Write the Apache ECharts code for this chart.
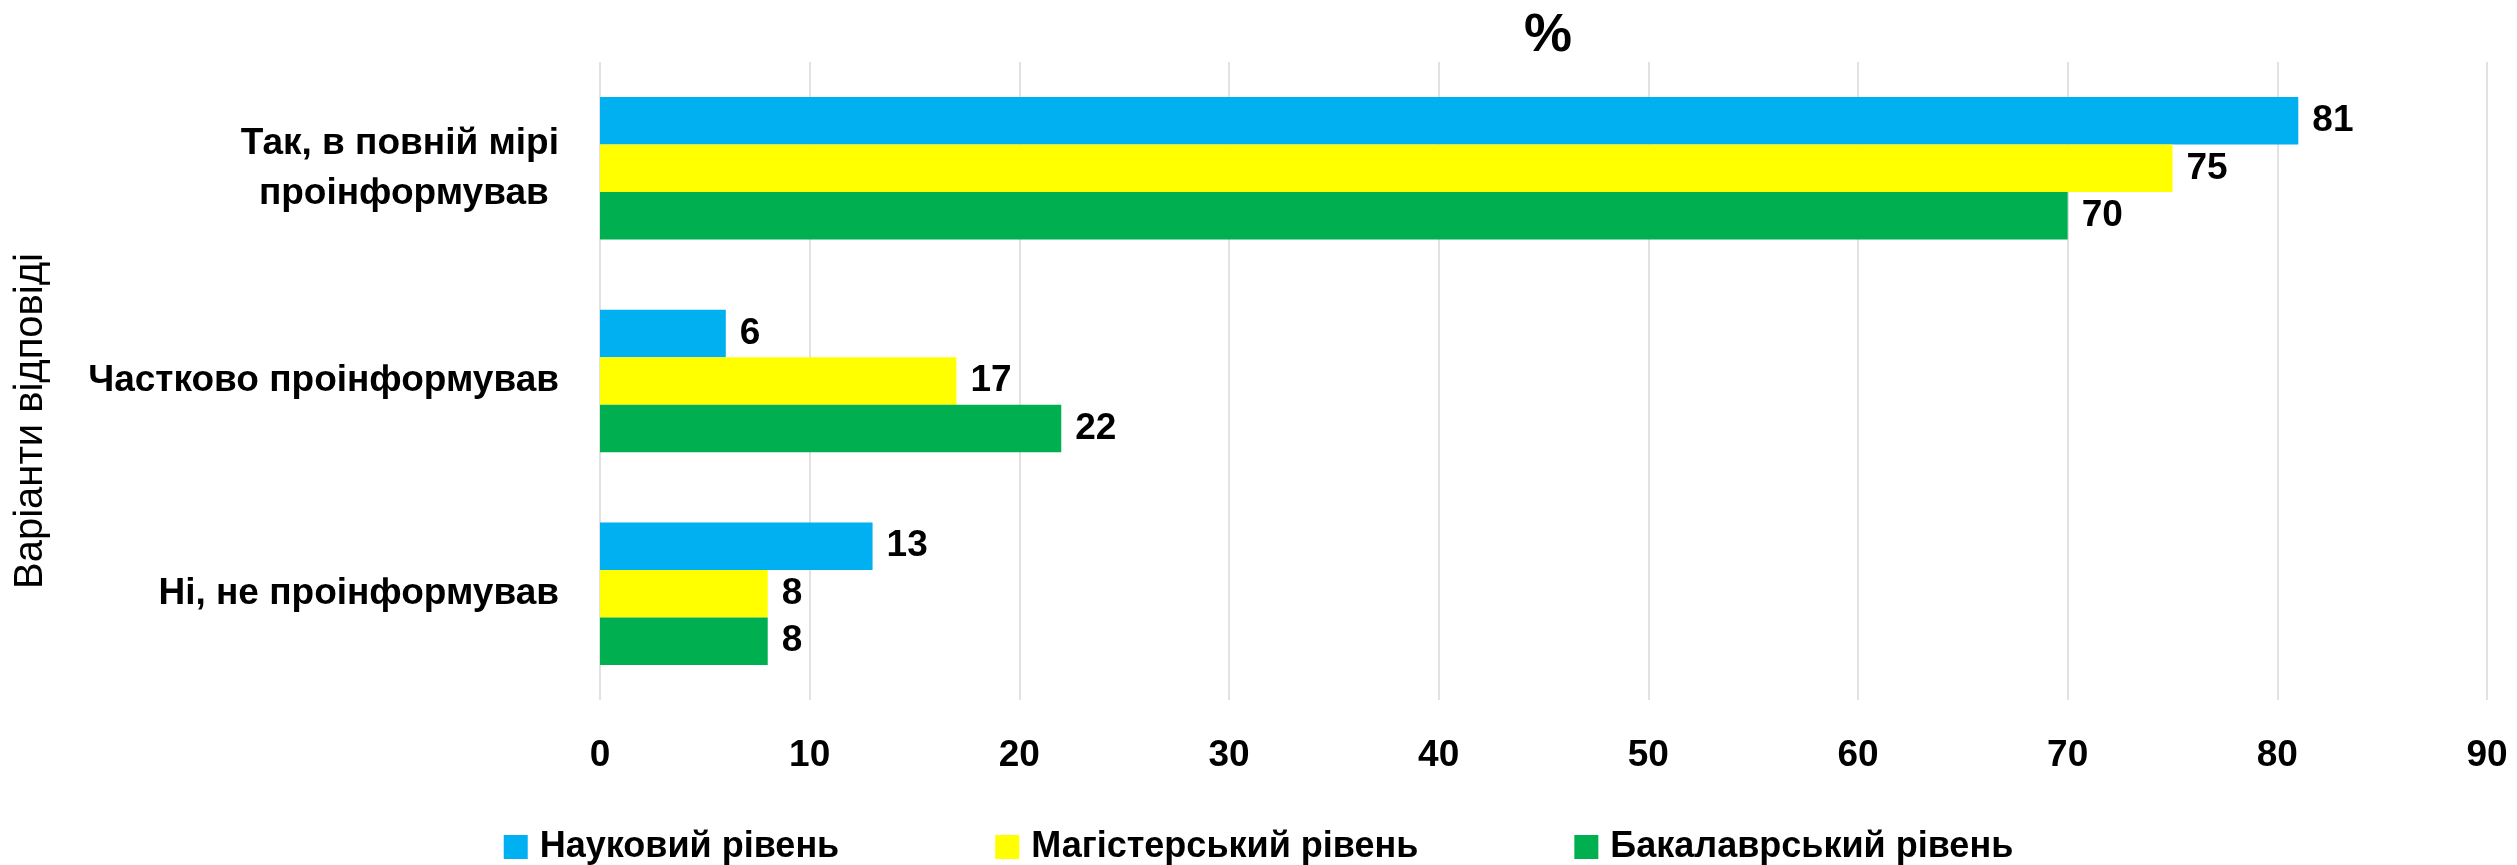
<!DOCTYPE html>
<html>
<head>
<meta charset="utf-8">
<title>%</title>
<script src="https://cdn.jsdelivr.net/npm/echarts@6/dist/echarts.min.js"></script>
<style>
    html, body { margin: 0; padding: 0; background: #fff; }
    #chart { width: 2517px; height: 865px; }
</style>
</head>
<body>
<div id="chart"></div>
<script>
    // варіанти відповіді
    var categories = ['Так, в повній мірі\nпроінформував ', 'Частково проінформував', 'Ні, не проінформував'];
    // значення, %
    var naukovyi = [81, 6, 13];
    var magisterskyi = [75, 17, 8];
    var bakalavrskyi = [70, 22, 8];
    var xTicks = { min: 0, max: 90, interval: 10 };

    var font = '"Liberation Sans", Arial, sans-serif';

    function barSeries(name, data, color) {
        return {
            name: name,
            type: 'bar',
            data: data,
            barGap: 0,
            barCategoryGap: '33%',
            itemStyle: {
                color: color
            },
            label: {
                show: true,
                position: 'right',
                distance: 14,
                color: '#000',
                fontFamily: font,
                fontWeight: 'bold',
                fontSize: 37
            }
        };
    }

    function initChart() {
        var chart = echarts.init(document.getElementById('chart'));
        var option = {
            animation: false,
            title: {
                text: '%',
                left: 1543,
                textAlign: 'center',
                top: 4,
                textStyle: {
                    fontFamily: font,
                    fontWeight: 'bold',
                    fontSize: 54,
                    color: '#000'
                }
            },
            grid: {
                left: 600,
                right: 30,
                top: 62,
                bottom: 165,
                outerBoundsMode: 'none'
            },
            legend: {
                left: 'center',
                top: 824,
                icon: 'rect',
                itemWidth: 24,
                itemHeight: 24,
                itemGap: 156,
                textStyle: {
                    fontFamily: font,
                    fontWeight: 'bold',
                    fontSize: 36,
                    color: '#000',
                    padding: [0, 0, 0, 7]
                },
                data: ['Науковий рівень', 'Магістерський рівень', 'Бакалаврський рівень']
            },
            xAxis: {
                type: 'value',
                min: xTicks.min,
                max: xTicks.max,
                interval: xTicks.interval,
                axisLine: { show: false },
                axisTick: { show: false },
                splitLine: {
                    lineStyle: {
                        color: '#d9d9d9',
                        width: 1.5
                    }
                },
                axisLabel: {
                    margin: 37,
                    color: '#000',
                    fontFamily: font,
                    fontWeight: 'bold',
                    fontSize: 37
                }
            },
            yAxis: {
                type: 'category',
                inverse: true,
                data: categories,
                name: 'Варіанти відповіді',
                nameLocation: 'middle',
                nameRotate: 90,
                nameGap: 549,
                nameTextStyle: {
                    fontFamily: font,
                    fontSize: 40,
                    color: '#000',
                    padding: [0, 80, 0, 0]
                },
                axisLine: { show: false },
                axisTick: { show: false },
                axisLabel: {
                    margin: 41,
                    color: '#000',
                    fontFamily: font,
                    fontWeight: 'bold',
                    fontSize: 37,
                    lineHeight: 50,
                    align: 'right'
                }
            },
            series: [
                barSeries('Науковий рівень', naukovyi, '#00B0F0'),
                barSeries('Магістерський рівень', magisterskyi, '#FFFF00'),
                barSeries('Бакалаврський рівень', bakalavrskyi, '#00B050')
            ]
        };
        chart.setOption(option);
    }
    initChart();
</script>
</body>
</html>
